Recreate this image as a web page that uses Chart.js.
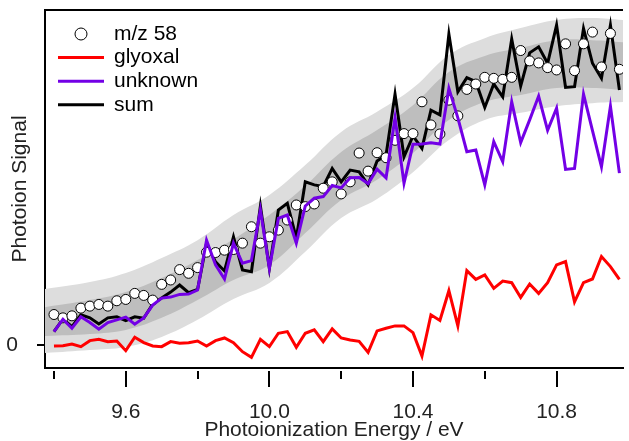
<!DOCTYPE html>
<html>
<head>
<meta charset="utf-8">
<script src="https://cdn.jsdelivr.net/npm/chart.js@4.4.1/dist/chart.umd.min.js"></script>
<style>
  html, body { margin: 0; padding: 0; background: #fff; }
  #wrap { width: 629px; height: 441px; }
</style>
</head>
<body>
<div id="wrap"><canvas id="myChart" width="629" height="441"></canvas></div>
<script>
// photon energy of each scan point (eV)
const energy = [
  9.400, 9.425, 9.450, 9.475, 9.500, 9.525, 9.550, 9.575,
  9.600, 9.625, 9.650, 9.675, 9.700, 9.725, 9.750, 9.775,
  9.800, 9.825, 9.850, 9.875, 9.900, 9.925, 9.950, 9.975,
  10.000, 10.025, 10.050, 10.075, 10.100, 10.125, 10.150, 10.175,
  10.200, 10.225, 10.250, 10.275, 10.300, 10.325, 10.350, 10.375,
  10.400, 10.425, 10.450, 10.475, 10.500, 10.525, 10.550, 10.575,
  10.600, 10.625, 10.650, 10.675, 10.700, 10.725, 10.750, 10.775,
  10.800, 10.825, 10.850, 10.875, 10.900, 10.925, 10.950, 10.975
];

const mz58 = [
  0.091, 0.081, 0.087, 0.110, 0.116, 0.121, 0.116, 0.132,
  0.136, 0.154, 0.148, 0.134, 0.181, 0.194, 0.225, 0.214,
  0.231, 0.277, 0.276, 0.283, 0.285, 0.304, 0.353, 0.304,
  0.323, 0.343, 0.373, 0.418, 0.413, 0.421, 0.468, 0.487,
  0.451, 0.487, 0.573, 0.519, 0.574, 0.559, 0.611, 0.631,
  0.631, 0.726, 0.657, 0.630, 0.731, 0.684, 0.763, 0.779,
  0.799, 0.796, 0.793, 0.799, 0.879, 0.848, 0.842, 0.828,
  0.821, 0.899, 0.819, 0.899, 0.934, 0.830, 0.930, 0.823
];

const glyoxal = [
  -0.003, -0.002, 0.003, -0.005, 0.013, 0.017, 0.010, 0.012,
  -0.017, 0.023, 0.007, -0.003, -0.005, 0.010, 0.005, 0.007,
  0.012, -0.003, 0.013, 0.021, 0.007, -0.020, -0.037, 0.017,
  -0.005, 0.035, 0.040, -0.007, 0.035, 0.045, 0.010, 0.048,
  0.021, 0.015, 0.011, -0.022, 0.042, 0.050, 0.057, 0.057,
  0.037, -0.033, 0.090, 0.073, 0.162, 0.057, 0.222, 0.196,
  0.209, 0.169, 0.191, 0.186, 0.142, 0.182, 0.154, 0.186,
  0.239, 0.249, 0.129, 0.186, 0.197, 0.264, 0.234, 0.196
];

const unknown = [
  0.040, 0.077, 0.050, 0.084, 0.067, 0.047, 0.067, 0.075,
  0.083, 0.062, 0.081, 0.119, 0.140, 0.143, 0.151, 0.152,
  0.164, 0.313, 0.239, 0.197, 0.304, 0.244, 0.252, 0.403,
  0.229, 0.378, 0.388, 0.304, 0.415, 0.438, 0.443, 0.476,
  0.469, 0.499, 0.500, 0.482, 0.525, 0.499, 0.678, 0.483,
  0.599, 0.600, 0.604, 0.600, 0.766, 0.678, 0.577, 0.582,
  0.478, 0.607, 0.547, 0.726, 0.604, 0.672, 0.743, 0.641,
  0.707, 0.524, 0.527, 0.749, 0.640, 0.532, 0.713, 0.513
];

const sum = [
  0.040, 0.078, 0.055, 0.090, 0.081, 0.063, 0.081, 0.084,
  0.073, 0.084, 0.080, 0.122, 0.140, 0.158, 0.179, 0.156,
  0.166, 0.304, 0.248, 0.221, 0.323, 0.224, 0.219, 0.415,
  0.229, 0.403, 0.423, 0.319, 0.487, 0.478, 0.473, 0.527,
  0.487, 0.522, 0.517, 0.478, 0.549, 0.567, 0.749, 0.562,
  0.624, 0.587, 0.701, 0.687, 0.928, 0.756, 0.798, 0.786,
  0.709, 0.779, 0.741, 0.913, 0.773, 0.872, 0.890, 0.841,
  0.955, 0.769, 0.771, 0.945, 0.841, 0.796, 0.955, 0.761
];

// grey confidence bands (outer = light, inner = dark)
const bandEnergy = [9.375, 9.5, 9.6, 9.7, 9.8, 9.9, 10.0, 10.1, 10.2, 10.3, 10.4, 10.5, 10.6, 10.7, 10.8, 10.9, 10.985];
const outerUpper = [0.167, 0.188, 0.215, 0.260, 0.313, 0.388, 0.448, 0.537, 0.636, 0.696, 0.767, 0.866, 0.916, 0.946, 0.970, 0.976, 0.970];
const innerUpper = [0.113, 0.134, 0.158, 0.200, 0.254, 0.316, 0.388, 0.475, 0.576, 0.642, 0.716, 0.815, 0.863, 0.887, 0.910, 0.910, 0.904];
const innerLower = [0.027, 0.033, 0.045, 0.081, 0.134, 0.194, 0.239, 0.334, 0.433, 0.493, 0.573, 0.672, 0.725, 0.746, 0.767, 0.767, 0.761];
const outerLower = [-0.024, -0.015, -0.006, 0.024, 0.075, 0.137, 0.185, 0.278, 0.379, 0.436, 0.516, 0.612, 0.672, 0.693, 0.713, 0.722, 0.725];

const xTicks = [9.4, 9.6, 9.8, 10.0, 10.2, 10.4, 10.6, 10.8];
const xTickLabels = ['', '9.6', '', '10.0', '', '10.4', '', '10.8'];
const yTicks = [0];
const yTickLabels = ['0'];

const FONT = '"Liberation Sans", Arial, sans-serif';

function pts(xs, ys) {
    return xs.map((x, i) => ({x: x, y: ys[i]}));
}

function band(ys, color, fill, order) {
    return {
        label: '',
        data: pts(bandEnergy, ys),
        borderColor: 'rgba(0,0,0,0)',
        borderWidth: 0,
        backgroundColor: color,
        pointRadius: 0,
        tension: 0.4,
        fill: fill,
        order: order
    };
}

// axis ticks, top frame and the in-plot legend
const decorations = {
    id: 'decorations',
    afterDatasetsDraw(chart) {
        const ctx = chart.ctx;
        const a = chart.chartArea;
        const xs = chart.scales.x;
        const ys = chart.scales.y;
        ctx.save();
        ctx.strokeStyle = '#000';
        ctx.lineWidth = 2;

        ctx.beginPath();
        ctx.moveTo(a.left - 1, a.top);
        ctx.lineTo(a.right, a.top);
        ctx.stroke();

        xTicks.forEach((v, i) => {
            const px = Math.round(xs.getPixelForValue(v));
            const len = xTickLabels[i] ? 16 : 8;
            ctx.beginPath();
            ctx.moveTo(px, a.bottom + 3);
            ctx.lineTo(px, a.bottom + 3 + len);
            ctx.stroke();
        });
        yTicks.forEach(v => {
            const py = Math.round(ys.getPixelForValue(v));
            ctx.beginPath();
            ctx.moveTo(a.left - 8, py);
            ctx.lineTo(a.left, py);
            ctx.stroke();
        });

        // legend
        ctx.font = '21px ' + FONT;
        ctx.textBaseline = 'middle';
        ctx.textAlign = 'left';
        const items = chart.data.datasets.filter(d => d.inLegend);
        items.sort((p, q) => p.legendRank - q.legendRank);
        items.forEach((d, k) => {
            const y = a.top + 24 + k * 23.6;
            if (d.showLine === false) {
                ctx.beginPath();
                ctx.arc(a.left + 36, y, 6, 0, Math.PI * 2);
                ctx.fillStyle = '#fff';
                ctx.fill();
                ctx.lineWidth = 1;
                ctx.strokeStyle = '#000';
                ctx.stroke();
            } else {
                ctx.beginPath();
                ctx.moveTo(a.left + 13, y);
                ctx.lineTo(a.left + 59, y);
                ctx.lineWidth = 3;
                ctx.strokeStyle = d.borderColor;
                ctx.stroke();
            }
            ctx.fillStyle = '#000';
            ctx.fillText(d.label, a.left + 69, y);
        });
        ctx.restore();
    }
};

const ctx = document.getElementById('myChart').getContext('2d');

const chart = new Chart(ctx, {
    type: 'line',
    data: {
        datasets: [
            band(outerUpper, '#dddddd', '+1', 6),
            band(outerLower, '#dddddd', false, 6),
            band(innerUpper, '#bebebe', '+1', 5),
            band(innerLower, '#bebebe', false, 5),
            {
                label: 'glyoxal', inLegend: true, legendRank: 1,
                data: pts(energy, glyoxal),
                borderColor: '#ff0000', borderWidth: 3,
                pointRadius: 0, tension: 0, fill: false, order: 3
            },
            {
                label: 'sum', inLegend: true, legendRank: 3,
                data: pts(energy, sum),
                borderColor: '#000000', borderWidth: 3,
                pointRadius: 0, tension: 0, fill: false, order: 2
            },
            {
                label: 'm/z 58', inLegend: true, legendRank: 0,
                data: pts(energy, mz58),
                showLine: false,
                pointRadius: 5,
                pointBackgroundColor: '#ffffff',
                pointBorderColor: '#000000',
                pointBorderWidth: 1,
                order: 1
            },
            {
                label: 'unknown', inLegend: true, legendRank: 2,
                data: pts(energy, unknown),
                borderColor: '#7300e6', borderWidth: 3,
                pointRadius: 0, tension: 0, fill: false, order: 0
            }
        ]
    },
    options: {
        responsive: false,
        devicePixelRatio: 1,
        animation: false,
        events: [],
        layout: { padding: { top: 10, right: 0, bottom: 0, left: 0 } },
        scales: {
            x: {
                type: 'linear',
                position: 'bottom',
                min: 9.375,
                max: 10.985,
                grid: { display: false },
                border: { display: true, color: '#000', width: 2 },
                afterBuildTicks: s => { s.ticks = xTicks.map(v => ({value: v})); },
                afterFit: s => { s.height = 73; s.paddingLeft = 0; s.paddingRight = 0; },
                ticks: {
                    autoSkip: false,
                    maxRotation: 0,
                    padding: 24,
                    color: '#222',
                    font: { family: FONT, size: 21 },
                    callback: (v, i) => xTickLabels[i]
                },
                title: {
                    display: true,
                    text: 'Photoionization Energy / eV',
                    color: '#222',
                    font: { family: FONT, size: 21 },
                    padding: { top: 0, bottom: -2 }
                }
            },
            y: {
                type: 'linear',
                min: -0.0687,
                max: 1.0,
                grid: { display: false },
                border: { display: true, color: '#000', width: 2 },
                afterBuildTicks: s => { s.ticks = yTicks.map(v => ({value: v})); },
                afterFit: s => { s.width = 45; s.paddingTop = 0; s.paddingBottom = 0; },
                ticks: {
                    padding: 19,
                    color: '#222',
                    font: { family: FONT, size: 21 },
                    callback: (v, i) => yTickLabels[i]
                },
                title: {
                    display: true,
                    text: 'Photoion Signal',
                    color: '#222',
                    font: { family: FONT, size: 21 },
                    padding: { top: 8, bottom: 0 }
                }
            }
        },
        plugins: {
            legend: { display: false },
            tooltip: { enabled: false }
        }
    },
    plugins: [decorations]
});
</script>
</body>
</html>
